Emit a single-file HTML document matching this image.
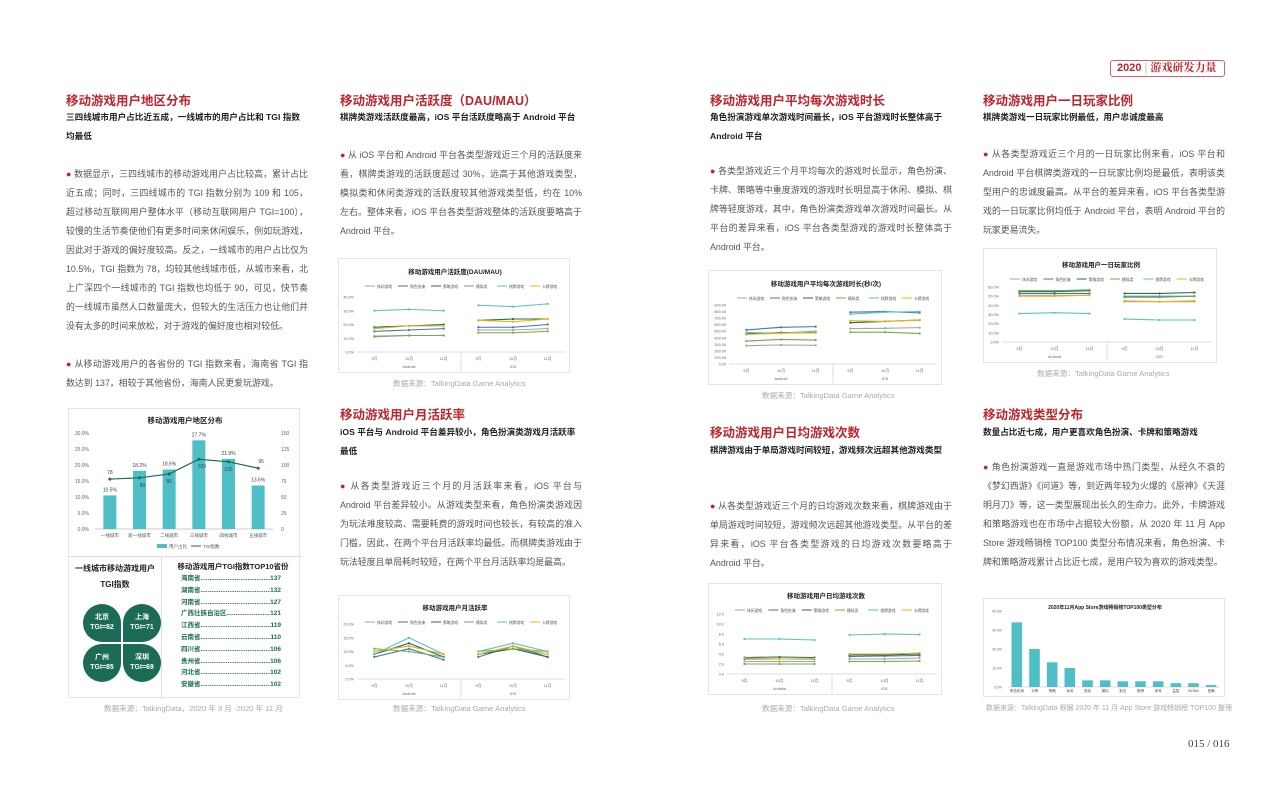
<!DOCTYPE html>
<html><head><meta charset="utf-8">
<style>
*{margin:0;padding:0;box-sizing:border-box}
body{width:1287px;height:800px;background:#fff;position:relative;overflow:hidden;font-family:"Liberation Sans","Noto Sans CJK SC",sans-serif;color:#333}
.abs{position:absolute}
.h{color:#c0242b;font-size:12.5px;font-weight:bold}
.sub{font-size:8.6px;font-weight:bold;color:#222;line-height:19px}
.p{font-size:8.9px;color:#555;line-height:19px;text-align:justify}
.dot{color:#c0242b}
.box{border:1px solid #e4e4e4;background:#fff}
.src{font-size:7.6px;color:#aaa;white-space:nowrap}
svg text{font-family:"Liberation Sans","Noto Sans CJK SC",sans-serif}
</style></head><body>
<div class="abs" style="left:1110px;top:60px;width:115px;height:17px;border:1px solid #d9606a;border-radius:3px;font-size:11px;color:#c0242b;font-weight:bold;line-height:15px;padding-left:6px;font-family:'Liberation Sans','Noto Serif CJK SC',serif">2020 <span style="color:#bbb;font-weight:normal">|</span> 游戏研发力量</div>

<!-- column 1 -->
<div class="abs h" style="left:66px;top:90px">移动游戏用户地区分布</div>
<div class="abs sub" style="left:66px;top:108px;width:242px">三四线城市用户占比近五成，一线城市的用户占比和 TGI 指数均最低</div>
<div class="abs p" style="left:66px;top:165px;width:242px"><span class="dot">●</span> 数据显示，三四线城市的移动游戏用户占比较高，累计占比近五成；同时，三四线城市的 TGI 指数分别为 109 和 105，超过移动互联网用户整体水平（移动互联网用户 TGI=100），较慢的生活节奏使他们有更多时间来休闲娱乐，例如玩游戏，因此对于游戏的偏好度较高。反之，一线城市的用户占比仅为 10.5%，TGI 指数为 78，均较其他线城市低，从城市来看，北上广深四个一线城市的 TGI 指数也均低于 90，可见，快节奏的一线城市虽然人口数量庞大，但较大的生活压力也让他们并没有太多的时间来放松，对于游戏的偏好度也相对较低。<br><br><span class="dot">●</span> 从移动游戏用户的各省份的 TGI 指数来看，海南省 TGI 指数达到 137，相较于其他省份，海南人民更爱玩游戏。</div>

<div class="abs box" style="left:68px;top:408px;width:232px;height:290px">
<svg id="regionChart" width="232" height="147" style="position:absolute;left:0;top:0"></svg>
<div class="abs" style="left:0;top:147px;width:232px;height:1px;background:#ddd"></div>
<div class="abs" style="left:92px;top:147px;width:1px;height:143px;background:#ddd"></div>
<div class="abs" style="left:0;top:152px;width:92px;text-align:center;font-size:8px;font-weight:bold;line-height:16px;color:#222">一线城市移动游戏用户<br>TGI指数</div>
<div class="abs" style="left:14px;top:195px;width:38px;height:38px;background:#1c6b57;border-radius:19px 19px 0 19px;color:#fff;font-size:7px;font-weight:bold;text-align:center;padding-top:9px;line-height:10px">北京<br>TGI=82</div>
<div class="abs" style="left:54px;top:195px;width:38px;height:38px;background:#1c6b57;border-radius:19px 19px 19px 0;color:#fff;font-size:7px;font-weight:bold;text-align:center;padding-top:9px;line-height:10px">上海<br>TGI=71</div>
<div class="abs" style="left:14px;top:235px;width:38px;height:38px;background:#1c6b57;border-radius:19px 0 19px 19px;color:#fff;font-size:7px;font-weight:bold;text-align:center;padding-top:9px;line-height:10px">广州<br>TGI=85</div>
<div class="abs" style="left:54px;top:235px;width:38px;height:38px;background:#1c6b57;border-radius:0 19px 19px 19px;color:#fff;font-size:7px;font-weight:bold;text-align:center;padding-top:9px;line-height:10px">深圳<br>TGI=69</div>
<div class="abs" style="left:96px;top:152px;width:136px;text-align:center;font-size:7.5px;font-weight:bold;color:#222">移动游戏用户TGI指数TOP10省份</div>
<div class="abs" id="provList" style="left:112px;top:164px;width:100px;font-size:6.5px;font-weight:bold;color:#1c6b57;line-height:11.8px"></div>
</div>
<div class="abs src" style="left:104px;top:703px">数据来源：TalkingData，2020 年 9 月 -2020 年 11 月</div>

<!-- column 2 -->
<div class="abs h" style="left:340px;top:90px">移动游戏用户活跃度（DAU/MAU）</div>
<div class="abs sub" style="left:340px;top:108px;width:250px;white-space:nowrap">棋牌类游戏活跃度最高，iOS 平台活跃度略高于 Android 平台</div>
<div class="abs p" style="left:340px;top:146px;width:242px"><span class="dot">●</span> 从 iOS 平台和 Android 平台各类型游戏近三个月的活跃度来看，棋牌类游戏的活跃度超过 30%，远高于其他游戏类型，模拟类和休闲类游戏的活跃度较其他游戏类型低，约在 10% 左右。整体来看，iOS 平台各类型游戏整体的活跃度要略高于 Android 平台。</div>
<div class="abs box" style="left:338px;top:258px;width:232px;height:115px"><svg id="dauChart" width="232" height="115"></svg></div>
<div class="abs src" style="left:393px;top:378px">数据来源：TalkingData  Game Analytics</div>

<div class="abs h" style="left:340px;top:404px">移动游戏用户月活跃率</div>
<div class="abs sub" style="left:340px;top:423px;width:242px">iOS 平台与 Android 平台差异较小，角色扮演类游戏月活跃率最低</div>
<div class="abs p" style="left:340px;top:477px;width:242px"><span class="dot">●</span> 从各类型游戏近三个月的月活跃率来看，iOS 平台与 Android 平台差异较小。从游戏类型来看，角色扮演类游戏因为玩法难度较高、需要耗费的游戏时间也较长，有较高的准入门槛，因此，在两个平台月活跃率均最低。而棋牌类游戏由于玩法轻度且单局耗时较短，在两个平台月活跃率均是最高。</div>
<div class="abs box" style="left:338px;top:595px;width:232px;height:105px"><svg id="retChart" width="232" height="105"></svg></div>
<div class="abs src" style="left:393px;top:703px">数据来源：TalkingData  Game Analytics</div>

<!-- column 3 -->
<div class="abs h" style="left:710px;top:90px">移动游戏用户平均每次游戏时长</div>
<div class="abs sub" style="left:710px;top:108px;width:242px">角色扮演游戏单次游戏时间最长，iOS 平台游戏时长整体高于 Android 平台</div>
<div class="abs p" style="left:710px;top:162px;width:242px"><span class="dot">●</span> 各类型游戏近三个月平均每次的游戏时长显示，角色扮演、卡牌、策略等中重度游戏的游戏时长明显高于休闲、模拟、棋牌等轻度游戏，其中，角色扮演类游戏单次游戏时间最长。从平台的差异来看，iOS 平台各类型游戏的游戏时长整体高于 Android 平台。</div>
<div class="abs box" style="left:708px;top:270px;width:234px;height:115px"><svg id="durChart" width="234" height="115"></svg></div>
<div class="abs src" style="left:762px;top:390px">数据来源：TalkingData  Game Analytics</div>

<div class="abs h" style="left:710px;top:422px">移动游戏用户日均游戏次数</div>
<div class="abs sub" style="left:710px;top:441px;width:242px">棋牌游戏由于单局游戏时间较短，游戏频次远超其他游戏类型</div>
<div class="abs p" style="left:710px;top:497px;width:242px"><span class="dot">●</span> 从各类型游戏近三个月的日均游戏次数来看，棋牌游戏由于单局游戏时间较短，游戏频次远超其他游戏类型。从平台的差异来看，iOS 平台各类型游戏的日均游戏次数要略高于 Android 平台。</div>
<div class="abs box" style="left:708px;top:583px;width:234px;height:112px"><svg id="dailyChart" width="234" height="112"></svg></div>
<div class="abs src" style="left:762px;top:703px">数据来源：TalkingData  Game Analytics</div>

<!-- column 4 -->
<div class="abs h" style="left:983px;top:90px">移动游戏用户一日玩家比例</div>
<div class="abs sub" style="left:983px;top:108px;width:242px">棋牌类游戏一日玩家比例最低，用户忠诚度最高</div>
<div class="abs p" style="left:983px;top:145px;width:242px"><span class="dot">●</span> 从各类型游戏近三个月的一日玩家比例来看，iOS 平台和 Android 平台棋牌类游戏的一日玩家比例均是最低，表明该类型用户的忠诚度最高。从平台的差异来看，iOS 平台各类型游戏的一日玩家比例均低于 Android 平台，表明 Android 平台的玩家更易流失。</div>
<div class="abs box" style="left:983px;top:248px;width:234px;height:115px"><svg id="onedayChart" width="234" height="115"></svg></div>
<div class="abs src" style="left:1037px;top:368px">数据来源：TalkingData  Game Analytics</div>

<div class="abs h" style="left:983px;top:404px">移动游戏类型分布</div>
<div class="abs sub" style="left:983px;top:423px;width:250px;white-space:nowrap">数量占比近七成，用户更喜欢角色扮演、卡牌和策略游戏</div>
<div class="abs p" style="left:983px;top:458px;width:242px"><span class="dot">●</span> 角色扮演游戏一直是游戏市场中热门类型，从经久不衰的《梦幻西游》《问道》等，到近两年较为火爆的《原神》《天涯明月刀》等，这一类型展现出长久的生命力。此外，卡牌游戏和策略游戏也在市场中占据较大份额，从 2020 年 11 月 App Store 游戏畅销榜 TOP100 类型分布情况来看，角色扮演、卡牌和策略游戏累计占比近七成，是用户较为喜欢的游戏类型。</div>
<div class="abs box" style="left:983px;top:598px;width:242px;height:99px"><svg id="genreChart" width="242" height="99"></svg></div>
<div class="abs src" style="left:986px;top:703px;font-size:7px">数据来源：TalkingData 根据 2020 年 11 月 App Store 游戏畅销榜 TOP100 整理</div>

<div class="abs" style="left:1188px;top:738px;font-size:11px;color:#444;font-family:'Liberation Serif',serif">015 / 016</div>

<script>
// ---- data ----
const regionCats=["一线城市","新一线城市","二线城市","三线城市","四线城市","五线城市"];
const regionShare=[10.5,18.2,18.6,27.7,21.9,13.6];
const regionTGI=[78,80,86,109,105,95];
const provNames=["海南省","湖南省","河南省","广西壮族自治区","江西省","云南省","四川省","贵州省","河北省","安徽省"];
const provTGI=[137,132,127,121,119,110,106,106,102,102];
const seriesNames=["休闲游戏","角色扮演","策略游戏","模拟类","棋牌游戏","卡牌游戏"];
const monthLabels=["9月","10月","11月"];
const dauCasual=[11,12,12,16,16,17];
const dauRpg=[15,16,17,18,18,20];
const dauStrategy=[18,19,20,23,24,24];
const dauSim=[11.5,12,12,14,14,15];
const dauBoard=[30,31,30,34,33,35];
const dauCard=[17,19,19,23,22,24];
const dauTicks=["0.0%","10.0%","20.0%","30.0%","40.0%"];
const retCasual=[10,12,9,9,11,9];
const retRpg=[8,11,7,8,12,8];
const retStrategy=[9,13,8,9,11,8];
const retSim=[11,10,8,10,11,10];
const retBoard=[9,15,9,10,13,10];
const retCard=[10,12,9,9,12,9];
const retTicks=["0.0%","5.0%","10.0%","15.0%","20.0%"];
const durCasual=[280,290,285,540,545,555];
const durRpg=[520,560,570,790,800,780];
const durStrategy=[460,480,480,630,650,670];
const durSim=[350,375,365,485,485,465];
const durBoard=[480,470,500,760,790,800];
const durCard=[450,470,475,660,650,670];
const durTicks=["0.00","100.00","200.00","300.00","400.00","500.00","600.00","700.00","800.00","900.00"];
const dayCasual=[2.5,2.5,2.5,3,3,3.2];
const dayRpg=[3,3,3,3.5,3.6,3.7];
const dayStrategy=[3.3,3.4,3.3,3.8,3.8,4];
const daySim=[2,2,2,2.5,2.5,2.6];
const dayBoard=[7,7,6.8,7.8,8,7.9];
const dayCard=[3.2,3,3.1,4,4,4.2];
const dayTicks=["0.0","2.0","4.0","6.0","8.0","10.0","12.0"];
const oneCasual=[51,51,51,44,44,44];
const oneRpg=[53,53,53,49,49,50];
const oneStrategy=[55,55,56,53,53,54];
const oneSim=[56,56,57,50,50,50];
const oneBoard=[31,32,31,25,24,24];
const oneCard=[50,50,51,45,44,45];
const oneTicks=["0.0%","10.0%","20.0%","30.0%","40.0%","50.0%","60.0%"];
const genreCats=["角色扮演","卡牌","策略","休闲","竞技","模拟","射击","棋牌","体育","益智","MOBA","音舞"];
const genreVals=[34,20,13,10,3.5,3.5,3,3,3,2,2,1];
const genreTicks=["0.0%","10.0%","20.0%","30.0%","40.0%"];
const colors=["#a5a5a5","#4472c4","#1f6e4f","#70ad47","#5bc0c8","#f0b400"];
const NS="http://www.w3.org/2000/svg";
function mk(svg,tag,a,txt){const e=document.createElementNS(NS,tag);for(const k in a)e.setAttribute(k,a[k]);if(txt!==undefined)e.textContent=txt;svg.appendChild(e);return e;}

function lineChart(id,title,series,ticks,maxV,m){
  const svg=document.getElementById(id);const W=+svg.getAttribute('width'),H=+svg.getAttribute('height');
  const L=m.l,R=W-6,T=m.t,B=H-m.b;
  const y=v=>B-(v/maxV)*(B-T);
  const x=i=>{const g=i<3?0:1,k=i%3;const gw=(R-L)/2;return L+g*gw+gw*(k+0.5)/3;};
  mk(svg,'text',{x:W/2,y:m.ty,'text-anchor':'middle','font-size':6.5,'font-weight':'bold',fill:'#222'},title);
  seriesNames.forEach((n,i)=>{const lx=L+8+i*(R-L-10)/6,ly=m.ty+12;
    mk(svg,'line',{x1:lx,x2:lx+10,y1:ly,y2:ly,stroke:colors[i],'stroke-width':1});
    mk(svg,'text',{x:lx+12,y:ly+2,'font-size':3.8,fill:'#555'},n);});
  ticks.forEach((t,i)=>{const v=maxV*i/(ticks.length-1);
    mk(svg,'text',{x:L-3,y:y(v)+1.5,'text-anchor':'end','font-size':3.8,fill:'#666'},t);});
  mk(svg,'line',{x1:L,x2:R,y1:B,y2:B,stroke:'#ddd'});
  mk(svg,'line',{x1:(L+R)/2,x2:(L+R)/2,y1:B,y2:H-3,stroke:'#ddd'});
  for(let i=0;i<6;i++)mk(svg,'text',{x:x(i),y:B+8,'text-anchor':'middle','font-size':3.8,fill:'#666'},monthLabels[i%3]);
  mk(svg,'text',{x:(L*3+R)/4,y:B+16,'text-anchor':'middle','font-size':3.8,fill:'#666'},'Android');
  mk(svg,'text',{x:(L+R*3)/4,y:B+16,'text-anchor':'middle','font-size':3.8,fill:'#666'},'iOS');
  series.forEach((s,si)=>{[0,3].forEach(st=>{
    const pts=[0,1,2].map(k=>x(st+k)+','+y(s[st+k])).join(' ');
    const pl=mk(svg,'polyline',{points:pts,fill:'none',stroke:colors[si],'stroke-width':1.1});
    
    
    [0,1,2].forEach(k=>mk(svg,'circle',{cx:x(st+k),cy:y(s[st+k]),r:1.1,fill:colors[si]}));});});
}
lineChart('dauChart','移动游戏用户活跃度(DAU/MAU)',[dauCasual,dauRpg,dauStrategy,dauSim,dauBoard,dauCard],dauTicks,40,{l:18,t:38,b:22,ty:15});
lineChart('retChart','移动游戏用户月活跃率',[retCasual,retRpg,retStrategy,retSim,retBoard,retCard],retTicks,20,{l:18,t:28,b:22,ty:14});
lineChart('durChart','移动游戏用户平均每次游戏时长(秒/次)',[durCasual,durRpg,durStrategy,durSim,durBoard,durCard],durTicks,900,{l:20,t:34,b:22,ty:15});
lineChart('dailyChart','移动游戏用户日均游戏次数',[dayCasual,dayRpg,dayStrategy,daySim,dayBoard,dayCard],dayTicks,12,{l:18,t:30,b:22,ty:14});
lineChart('onedayChart','移动游戏用户一日玩家比例',[oneCasual,oneRpg,oneStrategy,oneSim,oneBoard,oneCard],oneTicks,60,{l:18,t:38,b:22,ty:18});

// region combo chart
(function(){const svg=document.getElementById('regionChart');const L=26,R=204,T=24,B=120;
  const y=v=>B-(v/30)*(B-T),y2=v=>B-(v/150)*(B-T);const bw=(R-L)/6;const cx=i=>L+bw*(i+0.5);
  mk(svg,'text',{x:116,y:14,'text-anchor':'middle','font-size':7.5,'font-weight':'bold',fill:'#222'},'移动游戏用户地区分布');
  for(let i=0;i<=6;i++){mk(svg,'text',{x:L-6,y:y(i*5)+2,'text-anchor':'end','font-size':5,fill:'#666'},(i*5).toFixed(1)+'%');
    mk(svg,'text',{x:R+8,y:y2(i*25)+2,'font-size':5,fill:'#666'},String(i*25));}
  mk(svg,'line',{x1:L,x2:R,y1:B,y2:B,stroke:'#ccc'});
  regionShare.forEach((v,i)=>{const r=mk(svg,'rect',{x:cx(i)-6.5,y:y(v),width:13,height:B-y(v),fill:'#4fbfc7'});
    
    
    mk(svg,'text',{x:cx(i),y:y(v)-4,'text-anchor':'middle','font-size':5,fill:'#444'},v+'%');
    mk(svg,'text',{x:cx(i),y:B+8,'text-anchor':'middle','font-size':4.5,fill:'#555'},regionCats[i]);});
  mk(svg,'polyline',{points:regionTGI.map((v,i)=>cx(i)+','+y2(v)).join(' '),fill:'none',stroke:'#1c6b57','stroke-width':1.2});
  regionTGI.forEach((v,i)=>{mk(svg,'circle',{cx:cx(i),cy:y2(v),r:1.5,fill:'#1c6b57'});
    mk(svg,'text',{x:cx(i)+(i%2?3:0),y:y2(v)+(i===0||i===5?-5:9),'text-anchor':'middle','font-size':5,fill:'#444'},String(v));});
  mk(svg,'rect',{x:88,y:135,width:10,height:4,fill:'#4fbfc7'});mk(svg,'text',{x:100,y:139,'font-size':4.5,fill:'#555'},'用户占比');
  mk(svg,'line',{x1:122,x2:132,y1:137,y2:137,stroke:'#1c6b57'});mk(svg,'text',{x:134,y:139,'font-size':4.5,fill:'#555'},'TGI指数');
})();
// province list
(function(){const d=document.getElementById('provList');provNames.forEach((n,i)=>{const r=document.createElement('div');
  
  
  r.style.display='flex';r.innerHTML='<span>'+n+'</span><span style="flex:1;overflow:hidden;white-space:nowrap">................................................</span><span>'+provTGI[i]+'</span>';d.appendChild(r);});})();
// genre bar chart
(function(){const svg=document.getElementById('genreChart');const L=24,R=236,T=12,B=88;
  const y=v=>B-(v/40)*(B-T);const bw=(R-L)/genreCats.length;
  mk(svg,'text',{x:121,y:10,'text-anchor':'middle','font-size':5,'font-weight':'bold',fill:'#222'},'2020年11月App Store游戏畅销榜TOP100类型分布');
  genreTicks.forEach((t,i)=>mk(svg,'text',{x:L-6,y:y(i*10)+1.5,'text-anchor':'end','font-size':3.5,fill:'#666'},t));
  mk(svg,'line',{x1:L,x2:R,y1:B,y2:B,stroke:'#ddd'});
  genreVals.forEach((v,i)=>{const r=mk(svg,'rect',{x:L+bw*i+bw*0.2,y:y(v),width:bw*0.6,height:B-y(v),fill:'#4fbfc7'});
    
    
    mk(svg,'text',{x:L+bw*(i+0.5),y:B+5,'text-anchor':'middle','font-size':3.5,fill:'#555'},genreCats[i]);});
})();
</script>
</body></html>
